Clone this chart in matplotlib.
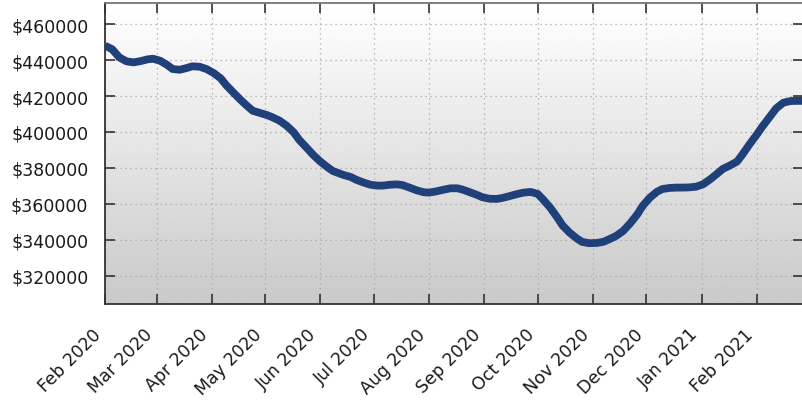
import numpy as np
import pandas as pd
import matplotlib
matplotlib.use("Agg")
import matplotlib.pyplot as plt
import matplotlib.dates as mdates
from matplotlib.ticker import FuncFormatter

# ---- data ----
start_date = "2020-02-01"
day_offsets = [0, 4, 8, 12, 16, 20, 24, 27, 31, 35, 38, 42, 46, 49, 53, 57, 61, 65, 68, 72,
               76, 80, 83, 87, 91, 94, 98, 102, 106, 109, 113, 117, 121, 125, 128, 134, 138,
               141, 145, 149, 153, 156, 160, 164, 167, 171, 175, 179, 182, 186, 190, 194, 198,
               201, 205, 209, 212, 216, 220, 223, 227, 231, 235, 239, 243, 246, 250, 254, 257,
               261, 265, 268, 272, 276, 280, 283, 287, 291, 295, 299, 302, 306, 310, 313, 317,
               321, 324, 328, 332, 336, 340, 344, 347, 351, 355, 358, 362, 366, 369, 373, 377,
               381, 385, 388, 392]
prices = [448000, 446000, 441500, 439300, 438700, 439400, 440400, 440700, 439600, 437200,
          435000, 434600, 435600, 436500, 436300, 435000, 432800, 429800, 426100, 422000,
          418000, 414300, 411800, 410600, 409400, 408200, 406300, 403500, 399800, 395700,
          391500, 387200, 383500, 380400, 378300, 376100, 375000, 373500, 372000, 370700,
          370200, 370200, 370700, 370900, 370500, 369100, 367600, 366500, 366300, 367000,
          367900, 368700, 368700, 367900, 366500, 365000, 363700, 362900, 362800, 363300,
          364300, 365400, 366300, 366700, 365600, 362500, 358000, 352500, 348000, 344000,
          340800, 338900, 338200, 338300, 339000, 340300, 342200, 345000, 349300, 354300,
          359000, 363500, 366800, 368300, 368900, 369100, 369100, 369200, 369600, 371000,
          373800, 377000, 379500, 381400, 383600, 387500, 393200, 398500, 402800, 408000,
          413200, 416300, 417200, 417300, 417300]
y_ticks = [320000, 340000, 360000, 380000, 400000, 420000, 440000, 460000]
y_range = (304400, 471700)

dates = pd.Timestamp(start_date) + pd.to_timedelta(day_offsets, unit="D")

W, H = 803, 402
fig = plt.figure(figsize=(W / 100, H / 100), dpi=100)
ax = fig.add_axes([105 / W, (H - 305) / H, (W - 105) / W, (305 - 4) / H])

# gradient background
n = 256
grad = np.linspace(1.0, 0.79, n).reshape(-1, 1)
ax.imshow(grad, cmap="gray", vmin=0, vmax=1, aspect="auto",
          extent=[0, 1, 0, 1], transform=ax.transAxes, zorder=0,
          interpolation="bilinear")
ax.set_facecolor("none")

ax.plot(dates, prices, color="#1f4078", lw=5.6, solid_capstyle="butt",
        solid_joinstyle="round", zorder=3)

ax.set_xlim(dates[0], dates[-1])
ax.set_ylim(*y_range)
ax.set_yticks(y_ticks)
ax.yaxis.set_major_formatter(FuncFormatter(lambda v, p: f"${int(v)}"))

ax.xaxis.set_major_locator(mdates.MonthLocator())
ax.xaxis.set_major_formatter(mdates.DateFormatter("%b %Y"))

ax.grid(True, color="#a8a8a8", linestyle=(0, (1, 3)), linewidth=0.9, zorder=1)

ax.tick_params(axis="both", which="major", direction="in", length=7.5, width=1.2,
               color="#333333", top=True, right=True, labelsize=12.5,
               labelcolor="#1a1a1a")
ax.tick_params(axis="y", pad=12)
ax.tick_params(axis="x", pad=15)
for lab in ax.get_xticklabels():
    lab.set_rotation(45)
    lab.set_ha("right")

for side in ["left", "bottom"]:
    ax.spines[side].set_color("#333333")
    ax.spines[side].set_linewidth(1.3)
for side in ["top", "right"]:
    ax.spines[side].set_color("#777777")
    ax.spines[side].set_linewidth(1.3)

fig.savefig("out.png", dpi=100)
